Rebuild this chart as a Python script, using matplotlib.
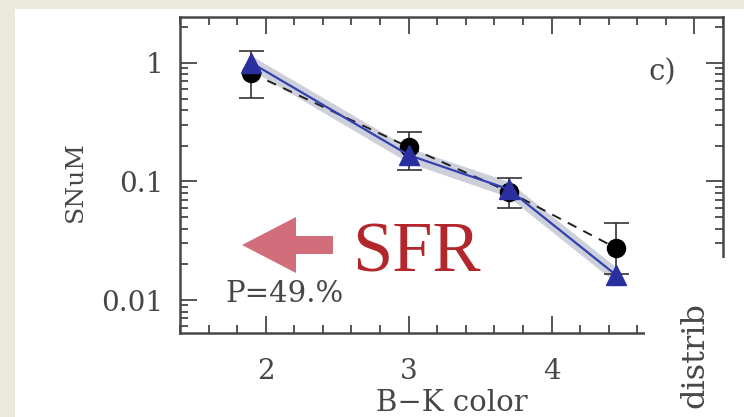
import matplotlib
matplotlib.use("Agg")
import matplotlib.pyplot as plt
from matplotlib.patches import Rectangle, Polygon
from matplotlib.ticker import MultipleLocator, LogLocator, NullFormatter

# SN rate per unit mass versus B-K colour
bk_color = [1.9, 3.0, 3.7, 4.45]
snum_obs = [0.82, 0.195, 0.082, 0.0275]
snum_obs_hi = [1.26, 0.26, 0.107, 0.045]
snum_obs_lo = [0.51, 0.125, 0.060, 0.0165]
snum_model = [1.0, 0.167, 0.086, 0.0163]
snum_model_hi = [1.15, 0.193, 0.100, 0.0190]
snum_model_lo = [0.87, 0.144, 0.074, 0.0140]
x_ticks = [2, 3, 4, 5]
x_ticklabels = ["2", "3", "4", ""]
y_ticks = [0.01, 0.1, 1]
y_ticklabels = ["0.01", "0.1", "1"]
prob_label = "P=49.%"
panel_label = "c)"

W, H = 744, 417
INK = "#474747"
SERIF = "DejaVu Serif"


def px(x, y):
    """Pixel position (from top-left) to figure fraction."""
    return (x / W, 1 - y / H)


fig = plt.figure(figsize=(W / 100, H / 100), dpi=100)
fig.patch.set_facecolor("#EAE9DC")
fig.add_artist(Rectangle(px(15, H), 1, (H - 9) / H, transform=fig.transFigure,
                         facecolor="white", edgecolor="none", zorder=-1))

ax = fig.add_axes([180 / W, 1 - 333 / H, (723 - 180) / W, (333 - 17) / H])
ax.set_yscale("log")
ax.set_xlim(1.4, 5.2)
ax.set_ylim(0.00527, 2.44)

# model band and line, observed points with dashed connection
ax.fill_between(bk_color, snum_model_lo, snum_model_hi, color="#CDD0DA",
                linewidth=0, zorder=1)
ax.plot(bk_color, snum_obs, linestyle=(0, (5, 4)), color="#222222", lw=1.4, zorder=2)
err = [[o - lo for o, lo in zip(snum_obs, snum_obs_lo)],
       [hi - o for o, hi in zip(snum_obs, snum_obs_hi)]]
ax.errorbar(bk_color, snum_obs, yerr=err, fmt="o", ms=13, color="black",
            ecolor="#333333", elinewidth=1.2, capsize=9, capthick=1.2, zorder=3)
ax.plot(bk_color, snum_model, color="#3340B0", lw=1.6, zorder=4)
ax.plot(bk_color, snum_model, linestyle="none", marker="^", ms=15,
        color="#2A2F9F", zorder=5)

# axes styling
ax.set_xticks(x_ticks, x_ticklabels)
ax.xaxis.set_minor_locator(MultipleLocator(0.2))
ax.set_yticks(y_ticks, y_ticklabels)
ax.yaxis.set_minor_locator(LogLocator(base=10, subs=range(2, 10)))
ax.yaxis.set_minor_formatter(NullFormatter())
ax.tick_params(which="both", direction="in", top=True, right=True,
               color=INK, width=1.3, labelsize=20, labelcolor=INK)
ax.tick_params(which="major", length=12)
ax.tick_params(which="minor", length=6)
ax.tick_params(axis="x", pad=18)
ax.tick_params(axis="y", pad=12)
for lab in ax.get_xticklabels() + ax.get_yticklabels():
    lab.set_family(SERIF)
for sp in ax.spines.values():
    sp.set_color(INK)
    sp.set_linewidth(1.8)

ax.text(0.083, 0.098, prob_label, transform=ax.transAxes, fontsize=21,
        color=INK, family=SERIF, va="baseline")
ax.text(0.862, 0.826, panel_label, transform=ax.transAxes, fontsize=21,
        color=INK, family=SERIF, va="center")

fig.text(*px(75, 182), "SNuM", rotation=90, ha="center", va="center",
         fontsize=18, color=INK, family=SERIF)
fig.text(*px(452, 411), "B\u2212K color", ha="center", va="baseline",
         fontsize=21, color=INK, family=SERIF)

# white cover over the lower right corner, with a side caption on it
fig.add_artist(Rectangle(px(645, H), 1, (H - 258) / H, transform=fig.transFigure,
                         facecolor="white", edgecolor="none", zorder=10))
fig.text(*px(695, 355), "distrib", rotation=90, ha="center", va="center",
         fontsize=23, color=INK, family=SERIF, zorder=11)

# arrow pointing towards blue colours, labelled SFR
arrow_pts = [px(242, 245), px(296, 217), px(296, 236), px(333, 236),
             px(333, 254), px(296, 254), px(296, 273)]
fig.add_artist(Polygon(arrow_pts, closed=True, transform=fig.transFigure,
                       facecolor="#D26E7C", edgecolor="none", zorder=12))
fig.text(*px(352, 272), "SFR", fontsize=52, color="#B3262C",
         family="Liberation Serif", va="baseline", ha="left", zorder=12)

fig.savefig("out.png", dpi=100)
